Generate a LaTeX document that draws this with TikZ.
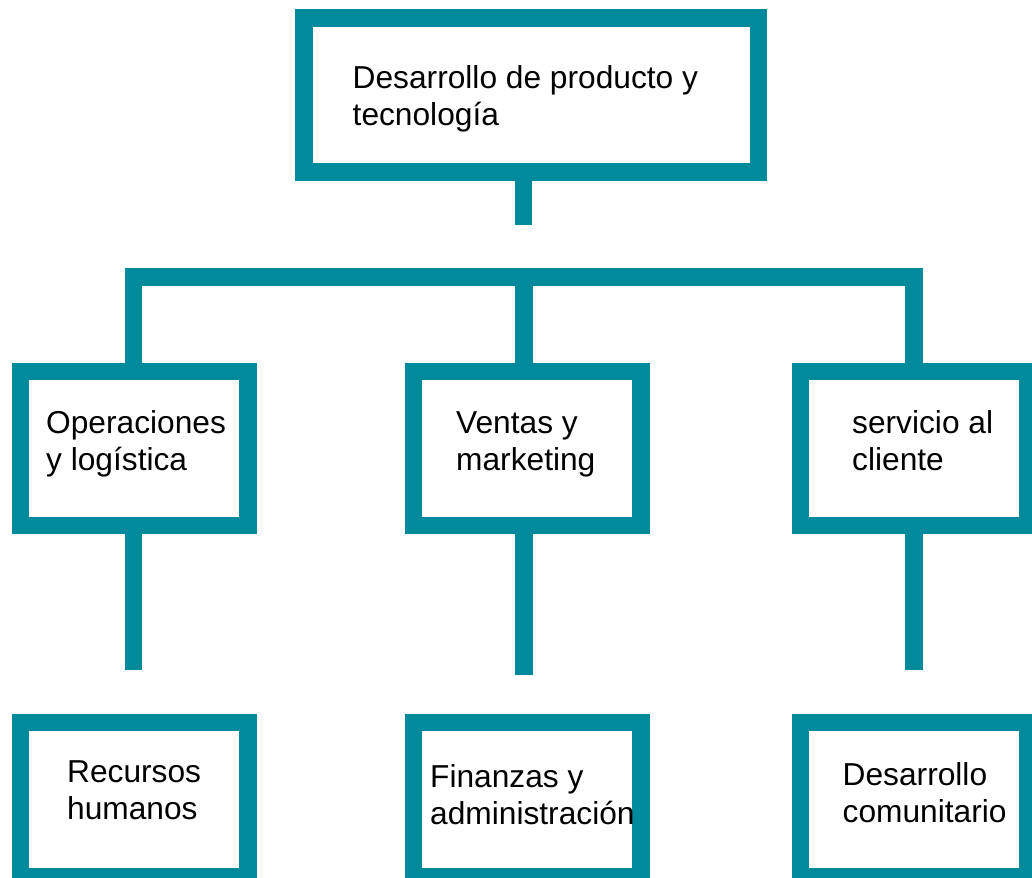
\documentclass[tikz,border=0pt]{standalone}
\usepackage{fontspec}
\setmainfont{Liberation Sans}
\definecolor{tealA}{RGB}{0,138,155}
\newcommand{\twoline}[2]{\vtop{\baselineskip=37pt\hbox{#1}\hbox{#2}}}
\begin{document}
\begin{tikzpicture}[x=1pt,y=-1pt,
  box/.style={draw=tealA,line width=17.5pt,minimum width=227.5pt,minimum height=154pt,inner sep=0pt},
  conn/.style={draw=tealA,line width=17.5pt,line cap=butt,line join=miter},
  lbl/.style={anchor=base west,inner sep=0pt,font=\fontsize{31.7}{37}\selectfont}]
\useasboundingbox (0,0) rectangle (1032,877);
% boxes
\node[box,minimum width=454.5pt] (top) at (531.25,95) {};
\node[box] (ops) at (134,448.5) {};
\node[box] (ven) at (527,448.5) {};
\node[box] (ser) at (914,448.5) {};
\node[box] (rh)  at (134,799.3) {};
\node[box] (fin) at (527,799.3) {};
\node[box] (dc)  at (914,799.3) {};
% free ends of connectors
\coordinate (stemend) at (523.5,225);
\coordinate (barL) at (133.7,277);
\coordinate (barM) at (524,277);
\coordinate (barR) at (914,277);
\coordinate (endL) at (133.7,670);
\coordinate (endM) at (524,675);
\coordinate (endR) at (914,670);
% connectors
\draw[conn] (top.south -| stemend) -- (stemend);
\draw[conn] (ops.north -| barL) -- (barL) -- (barR) -- (ser.north -| barR);
\draw[conn] (barM) -- (ven.north -| barM);
\draw[conn] (ops.south -| endL) -- (endL);
\draw[conn] (ven.south -| endM) -- (endM);
\draw[conn] (ser.south -| endR) -- (endR);
% texts
\node[lbl] (ttop) at (352.5,88.3) {\twoline{Desarrollo de producto y}{tecnología}};
\node[lbl] (tops) at (46,433) {\twoline{Operaciones}{y logística}};
\node[lbl] (tven) at (456,433) {\twoline{Ventas y}{marketing}};
\node[lbl] (tser) at (852,433) {\twoline{servicio al}{cliente}};
\node[lbl] (trh)  at (67,782.7) {\twoline{Recursos}{humanos}};
\node[lbl] (tfin) at (430,787.3) {\twoline{Finanzas y}{administración}};
\node[lbl] (tdc)  at (842.5,785) {\twoline{Desarrollo}{comunitario}};
\end{tikzpicture}
\end{document}
